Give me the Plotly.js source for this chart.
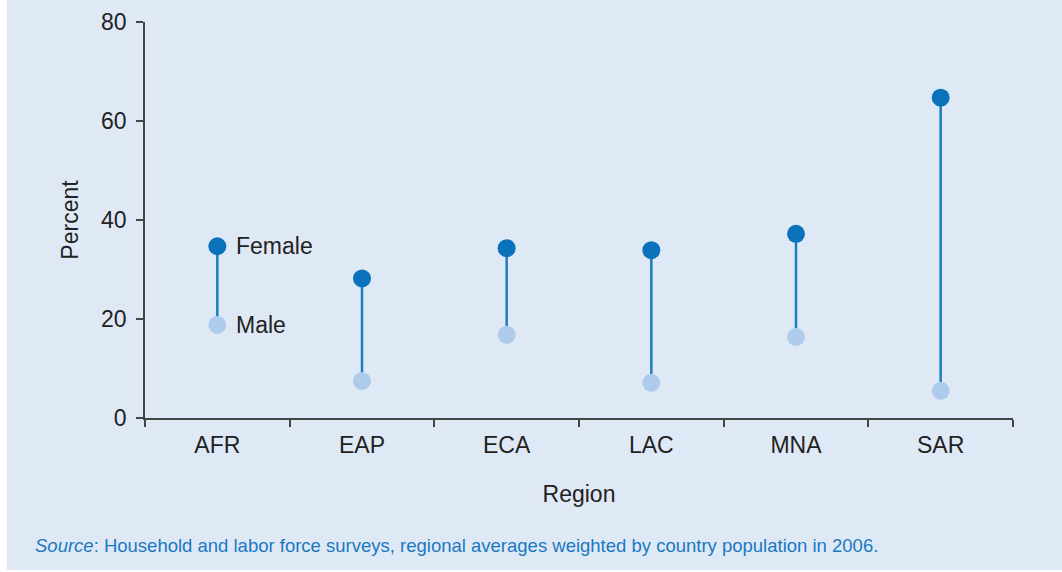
<!DOCTYPE html>
<html>
<head>
<meta charset="utf-8">
<script src="https://cdn.plot.ly/plotly-3.0.1.min.js"></script>
<style>
  html, body { margin: 0; padding: 0; background: #ffffff; }
  #chart { position: absolute; left: 7px; top: 0px; width: 1055px; height: 570px; }
</style>
</head>
<body>
<div id="chart"></div>
<script>
const regions = ["AFR", "EAP", "ECA", "LAC", "MNA", "SAR"];
const female = [34.7, 28.2, 34.3, 33.9, 37.2, 64.7];
const male = [18.8, 7.5, 16.8, 7.1, 16.4, 5.5];
const yTicks = [0, 20, 40, 60, 80];
const sourceLabel = "Source";
const sourceText = ": Household and labor force surveys, regional averages weighted by country population in 2006.";

const lx = [], ly = [];
regions.forEach((r, i) => { lx.push(r, r, null); ly.push(male[i], female[i], null); });

const font = "Liberation Sans, Arial, Helvetica, sans-serif";
const fs = 23;
const traces = [
  { x: lx, y: ly, type: "scatter", mode: "lines", line: { color: "#1a7cc1", width: 2.5 }, hoverinfo: "skip", showlegend: false },
  { x: regions, y: male, type: "scatter", mode: "markers", name: "Male", marker: { color: "#aecbeb", size: 18 }, showlegend: false },
  { x: regions, y: female, type: "scatter", mode: "markers", name: "Female", marker: { color: "#0a72bb", size: 18 }, showlegend: false }
];

const layout = {
  paper_bgcolor: "#dfe9f6",
  plot_bgcolor: "#dfe9f6",
  margin: { l: 138, r: 49, t: 22, b: 152 },
  font: { family: font, size: fs, color: "#222222" },
  xaxis: {
    type: "category",
    range: [-0.5, 5.5],
    showline: true, linecolor: "#444444", linewidth: 1.5,
    ticks: "outside", ticklen: 7, tickcolor: "#444444", tickwidth: 1.5,
    tickson: "boundaries",
    ticklabelstandoff: 6,
    showgrid: false, zeroline: false,
    tickfont: { size: fs, color: "#222222" },
    title: { text: "Region", font: { size: fs, color: "#222222" }, standoff: 29 }
  },
  yaxis: {
    range: [0, 80],
    tickvals: yTicks,
    showline: true, linecolor: "#444444", linewidth: 1.5,
    ticks: "outside", ticklen: 7, tickcolor: "#444444", tickwidth: 1.5,
    ticklabelstandoff: 5,
    showgrid: false, zeroline: false,
    tickfont: { size: fs, color: "#222222" },
    title: { text: "Percent", font: { size: fs, color: "#222222" }, standoff: 16 }
  },
  annotations: [
    { x: regions[0], y: female[0], xref: "x", yref: "y", text: "Female", showarrow: false, xanchor: "left", xshift: 17, font: { size: fs, color: "#222222" } },
    { x: regions[0], y: male[0], xref: "x", yref: "y", text: "Male", showarrow: false, xanchor: "left", xshift: 17, font: { size: fs, color: "#222222" } },
    { x: (33 - 145) / 868, y: (418 - 545) / 396, xref: "paper", yref: "paper", xanchor: "left", yanchor: "middle", showarrow: false,
      text: "<i>" + sourceLabel + "</i>" + sourceText, font: { size: 18.5, color: "#1a78c2" } }
  ]
};

Plotly.newPlot("chart", traces, layout, { displayModeBar: false, responsive: false });
</script>
</body>
</html>
